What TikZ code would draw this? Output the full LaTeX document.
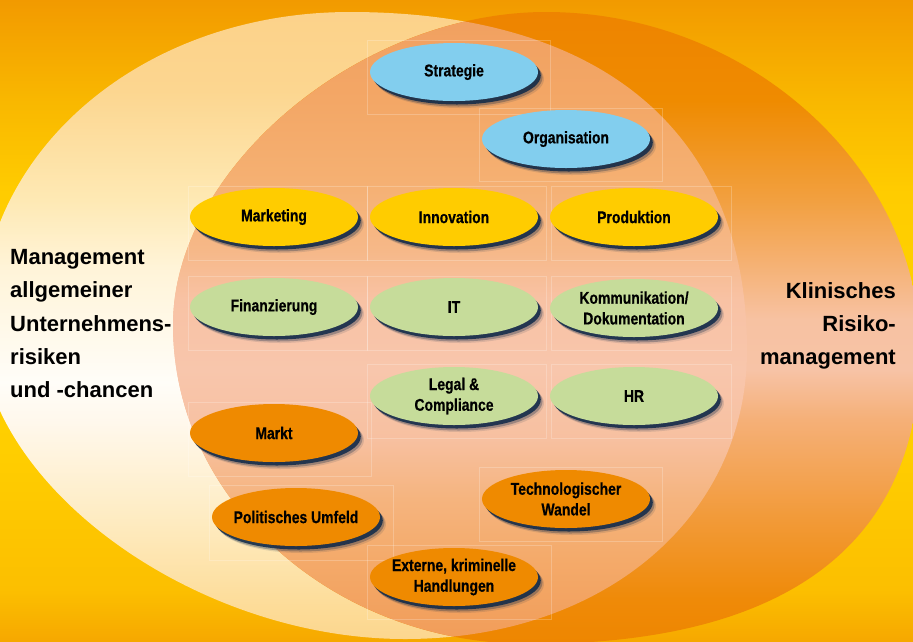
\documentclass[tikz,border=0pt]{standalone}
\usepackage{fontspec}
\setmainfont{Liberation Sans}
\newfontfamily\condfont{Liberation Sans Bold}[FakeStretch=0.82,FakeBold=0.5]
\usetikzlibrary{shapes.geometric,shadows}

\definecolor{bgA}{HTML}{F6A800}
\definecolor{bgB}{HTML}{FCBF00}
\definecolor{bgC}{HTML}{FFCE00}
\definecolor{bgD}{HTML}{FFD200}
\definecolor{bgE}{HTML}{FFCC00}
\definecolor{bgF}{HTML}{F9B800}
\definecolor{bgG}{HTML}{F29A00}

\definecolor{lA}{HTML}{FCD68E}
\definecolor{lB}{HTML}{FDDC98}
\definecolor{lC}{HTML}{FEEBC0}
\definecolor{lD}{HTML}{FFF8EC}
\definecolor{lE}{HTML}{FFFDF8}
\definecolor{lF}{HTML}{FFF4D8}
\definecolor{lG}{HTML}{FEE9B4}
\definecolor{lH}{HTML}{FCD690}
\definecolor{lI}{HTML}{FCD28A}

\definecolor{rA}{HTML}{EE8600}
\definecolor{rB}{HTML}{EF8A08}
\definecolor{rC}{HTML}{F29A38}
\definecolor{rD}{HTML}{F5B078}
\definecolor{rE}{HTML}{F7C3A6}
\definecolor{rF}{HTML}{F7C2A2}
\definecolor{rG}{HTML}{F5B070}
\definecolor{rH}{HTML}{F2A040}
\definecolor{rI}{HTML}{EF8B00}
\definecolor{rJ}{HTML}{EE8400}

\definecolor{oA}{HTML}{F19C58}
\definecolor{oB}{HTML}{F4AA6A}
\definecolor{oC}{HTML}{F5B47E}
\definecolor{oD}{HTML}{F7C0A0}
\definecolor{oE}{HTML}{F8C6AC}
\definecolor{oF}{HTML}{F8C2A4}
\definecolor{oG}{HTML}{F6B888}
\definecolor{oH}{HTML}{F5B072}
\definecolor{oI}{HTML}{F3A766}
\definecolor{oJ}{HTML}{F1A060}

\definecolor{ellblue}{HTML}{82CEEE}
\definecolor{ellyellow}{HTML}{FFCC00}
\definecolor{ellgreen}{HTML}{C6DC9A}
\definecolor{ellorange}{HTML}{EF8A00}
\definecolor{shadownavy}{HTML}{0E2848}

\pgfdeclareverticalshading{bgshade}{100bp}{color(0bp)=(bgA); color(25bp)=(bgA); color(29bp)=(bgB); color(40bp)=(bgC); color(50bp)=(bgD); color(60bp)=(bgE); color(67bp)=(bgF); color(75bp)=(bgG); color(100bp)=(bgG)}
\pgfdeclareverticalshading{leftshade}{100bp}{color(0bp)=(lA); color(25bp)=(lA); color(27.6bp)=(lB); color(34.3bp)=(lC); color(42.3bp)=(lD); color(45.5bp)=(lE); color(54.6bp)=(lF); color(60bp)=(lG); color(68.7bp)=(lH); color(75bp)=(lI); color(100bp)=(lI)}
\pgfdeclareverticalshading{rightshade}{100bp}{color(0bp)=(rA); color(25bp)=(rA); color(28.6bp)=(rB); color(34.9bp)=(rC); color(42.8bp)=(rD); color(46.7bp)=(rE); color(50.7bp)=(rF); color(55.4bp)=(rG); color(60.1bp)=(rH); color(68bp)=(rI); color(75bp)=(rJ); color(100bp)=(rJ)}
\pgfdeclareverticalshading{overlapshade}{100bp}{color(0bp)=(oA); color(25bp)=(oA); color(31.7bp)=(oB); color(36.5bp)=(oC); color(41.2bp)=(oD); color(46.7bp)=(oE); color(52.3bp)=(oF); color(56.2bp)=(oG); color(61.7bp)=(oH); color(68bp)=(oI); color(75bp)=(oJ); color(100bp)=(oJ)}

\begin{document}
\begin{tikzpicture}[x=1pt,y=-1pt,
  ell/.style={ellipse, minimum width=168pt, minimum height=58pt,
    inner xsep=-14pt, inner ysep=0pt, align=center, text=black,
    font=\condfont\fontsize{17}{20.7}\selectfont,
    drop shadow={shadow xshift=6pt,shadow yshift=-7pt,fill=shadownavy,opacity=0.12},
    drop shadow={shadow xshift=4.5pt,shadow yshift=-5.5pt,fill=shadownavy,opacity=0.3},
    drop shadow={shadow xshift=2.8pt,shadow yshift=-3.5pt,fill=shadownavy,opacity=0.85}},
  blueell/.style={ell, fill=ellblue},
  yellowell/.style={ell, fill=ellyellow},
  greenell/.style={ell, fill=ellgreen},
  orangeell/.style={ell, fill=ellorange},
  cell/.style={draw=white, draw opacity=0.22, line width=0.6pt},
  sidetext/.style={font=\bfseries\fontsize{22}{33.4}\selectfont, inner sep=0pt, text=black}
]
\useasboundingbox (0,0) rectangle (913,641);
\clip (0,0) rectangle (913,641);
\shade[shading=bgshade] (0,0) rectangle (913,641);

% left big shape
\shade[shading=leftshade] (-20,326) .. controls (-20,150.2) and (142.8,12) .. (350,12)
  .. controls (604.1,12) and (747,133.7) .. (747,350)
  .. controls (747,517.6) and (603.4,639) .. (405,639)
  .. controls (192.5,639) and (-20,482.5) .. (-20,326) -- cycle;

% right big shape
\shade[shading=rightshade] (173,325) .. controls (173,168.5) and (359.5,12) .. (546,12)
  .. controls (748,12) and (920,167.5) .. (920,350)
  .. controls (920,544) and (787.4,644) .. (530,644)
  .. controls (333.6,644) and (173,500.5) .. (173,325) -- cycle;

% overlap
\begin{scope}
\clip (-20,326) .. controls (-20,150.2) and (142.8,12) .. (350,12)
  .. controls (604.1,12) and (747,133.7) .. (747,350)
  .. controls (747,517.6) and (603.4,639) .. (405,639)
  .. controls (192.5,639) and (-20,482.5) .. (-20,326) -- cycle;
\shade[shading=overlapshade] (173,325) .. controls (173,168.5) and (359.5,12) .. (546,12)
  .. controls (748,12) and (920,167.5) .. (920,350)
  .. controls (920,544) and (787.4,644) .. (530,644)
  .. controls (333.6,644) and (173,500.5) .. (173,325) -- cycle;
\end{scope}

% faint cells
\draw[cell] (367,40) rectangle (550,114);
\draw[cell] (479,108) rectangle (662,181);
\draw[cell] (188,186) rectangle (367,260);
\draw[cell] (367,186) rectangle (546,260);
\draw[cell] (551,186) rectangle (731,260);
\draw[cell] (188,276) rectangle (367,350);
\draw[cell] (367,276) rectangle (546,350);
\draw[cell] (551,276) rectangle (731,350);
\draw[cell] (367,364) rectangle (546,438);
\draw[cell] (551,364) rectangle (731,438);
\draw[cell] (188,402) rectangle (371,476);
\draw[cell] (209,485) rectangle (393,560);
\draw[cell] (479,467) rectangle (662,541);
\draw[cell] (367,545) rectangle (551,619);

% ellipses
\node[blueell] (strat) at (454,72) {Strategie};
\node[blueell] (org) at (566,139) {Organisation};
\node[yellowell] (mark) at (274,217) {Marketing};
\node[yellowell] (innov) at (454,217) {Innovation};
\node[yellowell] (prod) at (634,217) {Produktion};
\node[greenell] (fin) at (274,307) {Finanzierung};
\node[greenell] (it) at (454,307) {IT};
\node[greenell] (komm) at (634,308) {Kommunikation/\\Dokumentation};
\node[greenell] (legal) at (454,396) {Legal \&\\Compliance};
\node[greenell] (hr) at (634,396) {HR};
\node[orangeell] (markt) at (274,433) {Markt};
\node[orangeell] (polit) at (296,517) {Politisches Umfeld};
\node[orangeell] (tech) at (566,499) {Technologischer\\Wandel};
\node[orangeell] (ext) at (454,577) {Externe, kriminelle\\Handlungen};

% side texts
\node[sidetext, anchor=north west, align=left] (lefttext) at (10,249)
  {Management\\allgemeiner\\Unternehmens-\\risiken\\und -chancen};
\node[sidetext, anchor=north east, align=right] (righttext) at (896,282)
  {Klinisches\\Risiko-\\management};
\end{tikzpicture}
\end{document}
